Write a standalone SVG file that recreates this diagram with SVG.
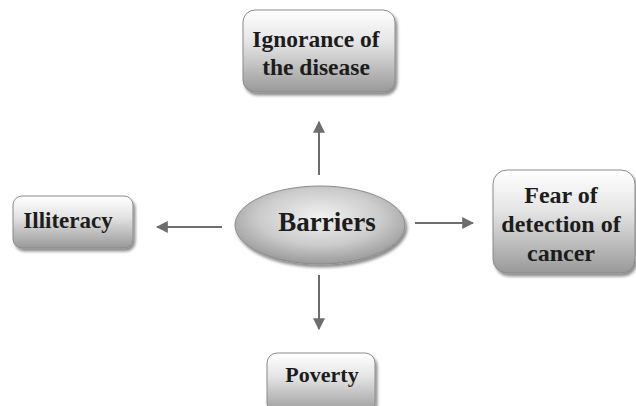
<svg xmlns="http://www.w3.org/2000/svg" width="636" height="406" viewBox="0 0 636 406">
<defs>
<linearGradient id="g" x1="0" y1="0" x2="0" y2="1">
<stop offset="0" stop-color="#ffffff"/>
<stop offset="0.4" stop-color="#e4e4e4"/>
<stop offset="1" stop-color="#999999"/>
</linearGradient>
<radialGradient id="ge" cx="0.5" cy="0.4" r="0.6">
<stop offset="0" stop-color="#f2f2f2"/>
<stop offset="0.6" stop-color="#cbcbcb"/>
<stop offset="1" stop-color="#9a9a9a"/>
</radialGradient>
<filter id="sh" x="-20%" y="-20%" width="140%" height="150%">
<feGaussianBlur in="SourceAlpha" stdDeviation="1.5"/>
<feOffset dx="1.5" dy="2.5" result="b"/>
<feComponentTransfer><feFuncA type="linear" slope="0.45"/></feComponentTransfer>
<feMerge><feMergeNode/><feMergeNode in="SourceGraphic"/></feMerge>
</filter>
<marker id="ah" viewBox="0 0 10 10" refX="9" refY="5" markerWidth="6" markerHeight="6" orient="auto" markerUnits="strokeWidth">
<path d="M0,0 L10,5 L0,10 z" fill="#6d6d6d"/>
</marker>
</defs>
<style>
.box{fill:url(#g);stroke:#8a8a8a;stroke-width:1;filter:url(#sh)}
.t{font-family:"Liberation Serif","Times New Roman",serif;font-weight:bold;fill:#1c1c1c;text-anchor:middle}
.c{stroke:#6d6d6d;stroke-width:2;fill:none;marker-end:url(#ah)}
</style>
<rect width="636" height="406" fill="#fff"/>
<g id="connectors">
<line class="c" x1="319" y1="175" x2="319" y2="122"/>
<line class="c" x1="319" y1="275" x2="319" y2="329"/>
<line class="c" x1="222" y1="227" x2="157" y2="227"/>
<line class="c" x1="415" y1="223" x2="473" y2="223"/>
</g>
<g id="ignorance">
<rect class="box" x="243" y="10" width="152" height="82" rx="12"/>
<text class="t" x="316" y="47" font-size="23.5">Ignorance of</text>
<text class="t" x="316" y="75" font-size="23.5">the disease</text>
</g>
<g id="barriers">
<ellipse cx="320" cy="225" rx="85" ry="39" fill="url(#ge)" stroke="#8a8a8a" stroke-width="1" filter="url(#sh)"/>
<text class="t" x="327" y="231" font-size="27">Barriers</text>
</g>
<g id="illiteracy">
<rect class="box" x="13" y="196" width="120" height="52" rx="9"/>
<text class="t" x="68" y="228" font-size="23">Illiteracy</text>
</g>
<g id="fear">
<rect class="box" x="493" y="170" width="142" height="103" rx="14"/>
<text class="t" x="561" y="203" font-size="24">Fear of</text>
<text class="t" x="561" y="232" font-size="24">detection of</text>
<text class="t" x="561" y="261" font-size="24">cancer</text>
</g>
<g id="poverty">
<rect class="box" x="267" y="353" width="108" height="60" rx="10"/>
<text class="t" x="322" y="382" font-size="22">Poverty</text>
</g>
</svg>
